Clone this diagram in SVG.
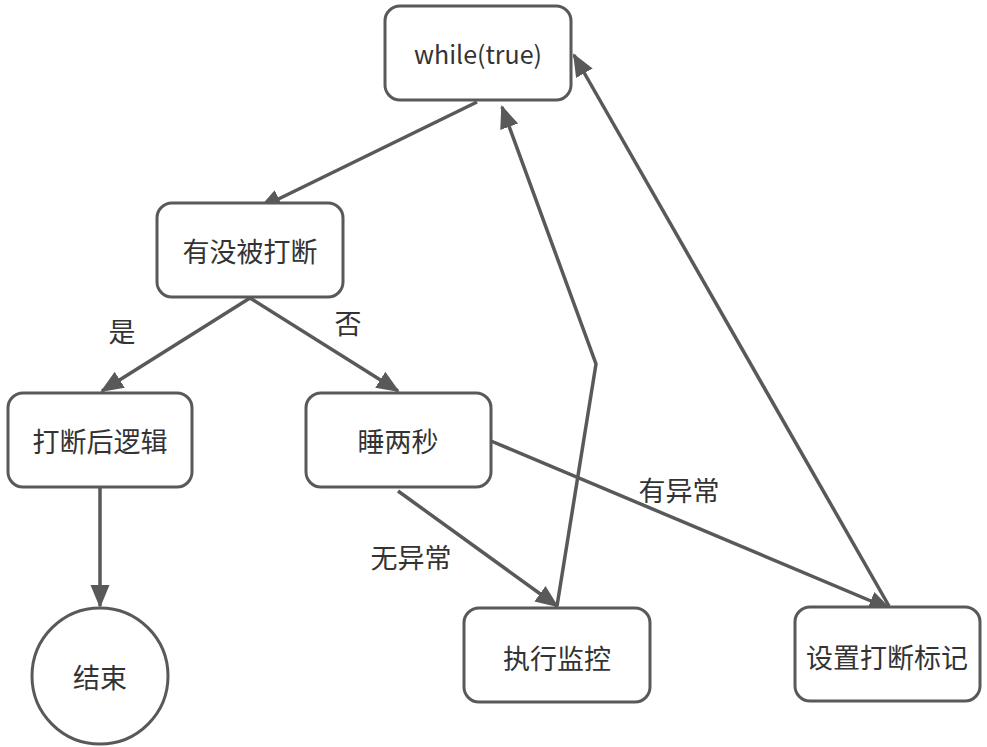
<svg xmlns="http://www.w3.org/2000/svg" width="987" height="747" viewBox="0 0 987 747">
<style>
.n{fill:#fff;stroke:#595959;stroke-width:3}
.t{font-family:"Noto Sans CJK SC","Microsoft YaHei",sans-serif;font-size:27px;fill:#333;text-anchor:middle;dominant-baseline:central}
.e{fill:none;stroke:#595959;stroke-width:3.5}
</style>
<defs>
<marker id="a" markerUnits="userSpaceOnUse" markerWidth="23" markerHeight="21" viewBox="0 0 23 21" refX="21" refY="10.5" orient="auto">
<path d="M0,1 L23,10.5 L0,20 Z" fill="#595959"/>
</marker>
</defs>
<rect width="987" height="747" fill="#fff"/>
<g id="edges">
<line class="e" x1="477" y1="102" x2="260" y2="208" marker-end="url(#a)"/>
<line class="e" x1="250" y1="298" x2="102" y2="391" marker-end="url(#a)"/>
<line class="e" x1="250" y1="298" x2="398" y2="391" marker-end="url(#a)"/>
<line class="e" x1="100" y1="488" x2="100" y2="606" marker-end="url(#a)"/>
<line class="e" x1="398" y1="491" x2="557" y2="606" marker-end="url(#a)"/>
<line class="e" x1="491" y1="441" x2="890" y2="609" marker-end="url(#a)"/>
<polyline class="e" points="557,606 596,364 502,107" marker-end="url(#a)"/>
<line class="e" x1="889" y1="606" x2="574" y2="55" marker-end="url(#a)"/>
<text class="t" x="122" y="330">是</text>
<text class="t" x="348" y="322">否</text>
<text class="t" x="411" y="556">无异常</text>
<text class="t" x="679" y="489">有异常</text>
</g>
<g id="n1"><rect class="n" x="385" y="6" width="186" height="94" rx="15"/><text class="t" x="478" y="53" style="font-size:25px">while(true)</text></g>
<g id="n2"><rect class="n" x="157" y="203" width="186" height="94" rx="15"/><text class="t" x="250" y="250">有没被打断</text></g>
<g id="n3"><rect class="n" x="8" y="393" width="184" height="94" rx="15"/><text class="t" x="100" y="440">打断后逻辑</text></g>
<g id="n4"><rect class="n" x="306" y="393" width="185" height="94" rx="15"/><text class="t" x="398" y="440">睡两秒</text></g>
<g id="n5"><circle class="n" cx="100" cy="676" r="68"/><text class="t" x="100" y="676">结束</text></g>
<g id="n6"><rect class="n" x="464" y="608" width="186" height="94" rx="15"/><text class="t" x="557" y="657">执行监控</text></g>
<g id="n7"><rect class="n" x="795" y="607" width="185" height="94" rx="15"/><text class="t" x="887" y="656">设置打断标记</text></g>
</svg>
